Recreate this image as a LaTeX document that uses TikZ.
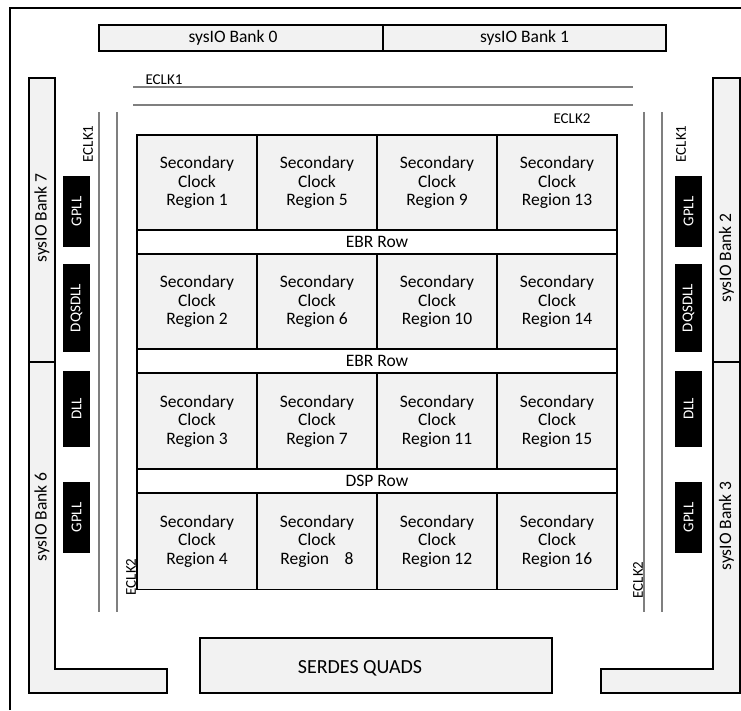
\documentclass[tikz,border=0pt]{standalone}
\usepackage{fontspec}
\setmainfont{Carlito}
\definecolor{boxgrey}{HTML}{F2F2F2}
\definecolor{clkgrey}{HTML}{7F7F7F}
\begin{document}
\begin{tikzpicture}[x=1pt,y=-1pt,
  bigtext/.style={font=\fontsize{17.5}{18.5}\selectfont},
  smalltext/.style={font=\fontsize{15}{16}\selectfont},
  greybox/.style={draw=black,line width=1.3pt,fill=boxgrey,inner sep=0pt,bigtext},
  cell/.style={greybox,minimum width=120,align=center},
  rowbar/.style={draw=black,line width=1.3pt,fill=white,inner sep=0pt,
    minimum width=480,minimum height=24,bigtext},
  blackbox/.style={fill=black,text=white,inner sep=0pt,rotate=90,
    minimum height=27,smalltext},
  clkline/.style={draw=clkgrey,line width=1.3pt},
  lbl/.style={inner sep=0pt,smalltext},
  banklbl/.style={inner sep=0pt,bigtext,rotate=90}]

\useasboundingbox (0,0) rectangle (741,710);
\fill[white] (0,0) rectangle (741,710);

% outer frame (top and left edges)
\coordinate (frameBL) at (10,710);
\coordinate (frameTL) at (10,8);
\coordinate (frameTR) at (741,8);
\draw[line width=1.3pt] (frameBL) -- (frameTL) -- (frameTR);

% top I/O banks
\node[greybox,minimum width=284,minimum height=26] (bank0) at (241,38) {};
\node[inner sep=0pt,bigtext] (bank0lbl) at (233,38) {sysIO Bank 0};
\node[greybox,minimum width=283,minimum height=26] (bank1) at (524.5,38) {sysIO Bank 1};

% left I/O banks
\node[greybox,rotate=90,minimum width=284,minimum height=26] (bank7) at (42,220) {};
\node[banklbl] (bank7lbl) at (42,218) {sysIO Bank 7};
\draw[greybox] (29,362) -- (55,362) -- (55,669) -- (167,669) -- (167,693) -- (29,693) -- cycle;
\node[banklbl] (bank6) at (42,517) {sysIO Bank 6};

% right I/O banks
\node[greybox,minimum width=284,minimum height=27,rotate=90] (bank2) at (726.5,220) {};
\node[banklbl] (bank2lbl) at (726.5,258) {sysIO Bank 2};
\draw[greybox] (713,362) -- (740,362) -- (740,693) -- (601,693) -- (601,669) -- (713,669) -- cycle;
\node[banklbl] (bank3) at (726.5,526) {sysIO Bank 3};

% SERDES block
\node[greybox,minimum width=352,minimum height=55] (serdes) at (376,665.5) {};
\node[inner sep=0pt,font=\fontsize{20}{22}\selectfont] (serdeslbl) at (360,668) {SERDES QUADS};

% edge clock lines
\coordinate (e1a) at (133,87);  \coordinate (e1b) at (633,87);
\coordinate (e2a) at (133,105); \coordinate (e2b) at (633,105);
\coordinate (l1a) at (99,112);  \coordinate (l1b) at (99,612);
\coordinate (l2a) at (117,112); \coordinate (l2b) at (117,612);
\coordinate (r1a) at (644,112); \coordinate (r1b) at (644,612);
\coordinate (r2a) at (662,112); \coordinate (r2b) at (662,612);
\draw[clkline] (e1a) -- (e1b);
\draw[clkline] (e2a) -- (e2b);
\draw[clkline] (l1a) -- (l1b);
\draw[clkline] (l2a) -- (l2b);
\draw[clkline] (r1a) -- (r1b);
\draw[clkline] (r2a) -- (r2b);

\node[lbl] (eclk1top) at (164,80) {ECLK1};
\node[lbl] (eclk2top) at (572,119) {ECLK2};
\node[lbl,rotate=90] (eclk1l) at (88,144) {ECLK1};
\node[lbl,rotate=90] (eclk1r) at (681,144) {ECLK1};
\node[lbl,rotate=90] (eclk2l) at (131,577) {ECLK2};
\node[lbl,rotate=90] (eclk2r) at (638,580) {ECLK2};

% PLL / DLL blocks
\node[blackbox,minimum width=71] (gpllLT) at (76.5,211.5) {GPLL};
\node[blackbox,minimum width=88] (dqsL) at (76.5,308) {DQSDLL};
\node[blackbox,minimum width=76] (dllL) at (76.5,409) {DLL};
\node[blackbox,minimum width=71] (gpllLB) at (76.5,517.5) {GPLL};
\node[blackbox,minimum width=71] (gpllRT) at (688.5,211.5) {GPLL};
\node[blackbox,minimum width=88] (dqsR) at (688.5,308) {DQSDLL};
\node[blackbox,minimum width=76] (dllR) at (688.5,409) {DLL};
\node[blackbox,minimum width=71] (gpllRB) at (688.5,517.5) {GPLL};

% secondary clock regions
\foreach \c/\x in {0/197,1/317,2/437,3/557}{
  \foreach \r/\y/\h in {1/182.5/95,2/301.5/95,3/421/96,4/541/97}{
    \pgfmathtruncatemacro{\num}{\c*4+\r}
    \ifnum\num=8
      \node[cell,minimum height=\h] (scr\num) at (\x,\y) {Secondary\\Clock\\Region\hspace{0.9em}8};
    \else
      \node[cell,minimum height=\h] (scr\num) at (\x,\y) {Secondary\\Clock\\Region \num};
    \fi
  }
}

% block RAM and DSP rows
\node[rowbar] (ebr1) at (377,242) {EBR Row};
\node[rowbar] (ebr2) at (377,361) {EBR Row};
\node[rowbar] (dsp) at (377,481) {DSP Row};

\end{tikzpicture}
\end{document}
